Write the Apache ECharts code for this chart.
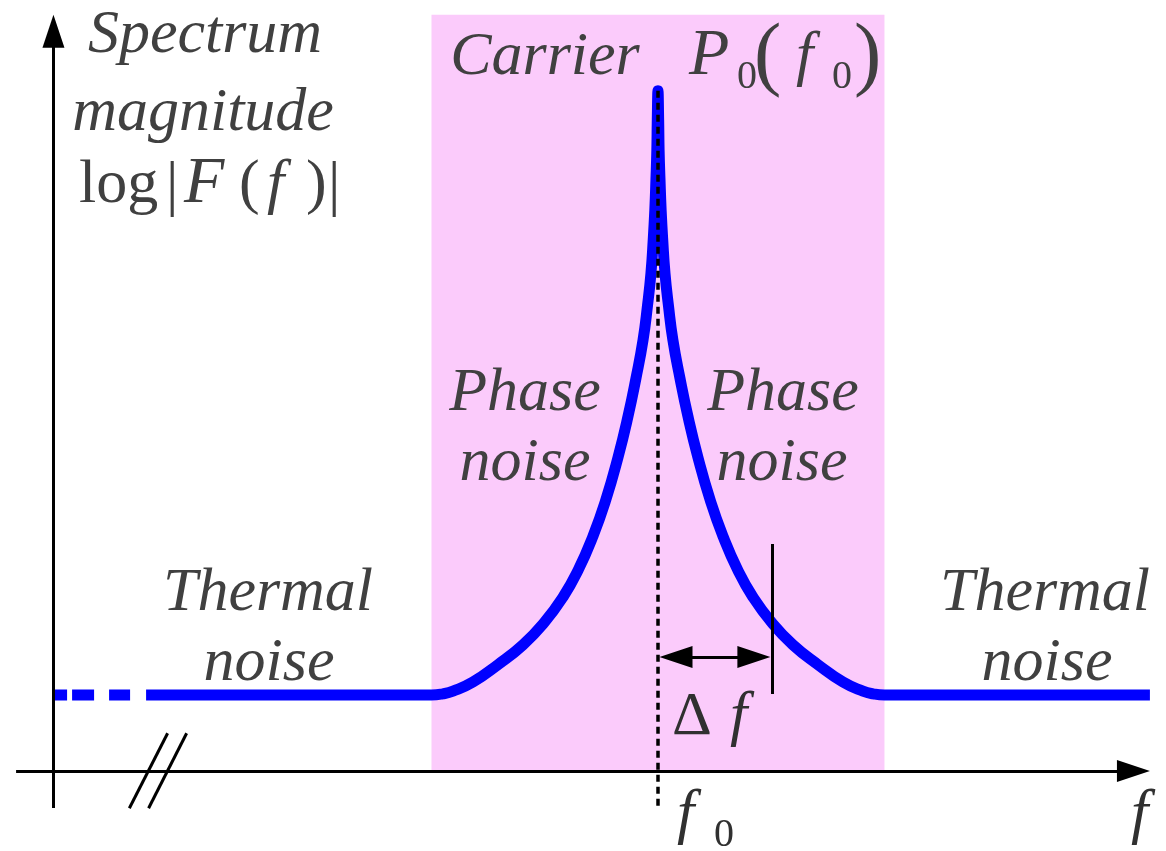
<!DOCTYPE html>
<html><head><meta charset="utf-8">
<script src="https://cdn.jsdelivr.net/npm/echarts@6/dist/echarts.min.js"></script>
<style>html,body{margin:0;padding:0;background:#fff}#c{width:1166px;height:851px}</style>
</head><body><div id="c"></div>
<script>
// ---------------- data (x: frequency offset from f0, band edge = 100; y: log magnitude) ----------------
const bandEdge = 100;            // half width of the phase-noise region
const bandTop = 99.5;            // top of shaded region
const thermalLevel = 10;         // thermal noise floor
const deltaF = 50.3;             // offset Δf marker
const thermalDashedStart = -266.7;
const thermalSolidStart = -226;
const thermalEnd = 217.2;
const leftOffsets   = [-100, -95.0, -90.5, -81.7, -70.6, -59.6, -50.3, -41.9, -35.3, -28.7, -23.0, -17.7, -13.2, -9.7, -6.6, -4.6, -3.1, -2.1, -1.4, -0.9, -0.5, -0.3];
const leftMagnitude = [10.0, 10.15, 10.5, 11.7, 14.0, 16.6, 19.5, 22.9, 26.4, 30.9, 35.7, 41.2, 46.7, 51.7, 56.7, 61.3, 65.5, 69.9, 73.8, 77.8, 81.7, 85.7];
const rightOffsets   = [0, 0.3, 0.5, 0.9, 1.4, 2.1, 3.1, 4.6, 6.6, 9.7, 13.2, 17.7, 23.0, 28.7, 35.3, 41.9, 50.3, 59.6, 70.6, 81.7, 90.5, 95.0, 100];
const rightMagnitude = [89.5, 85.7, 81.7, 77.8, 73.8, 69.9, 65.5, 61.3, 56.7, 51.7, 46.7, 41.2, 35.7, 30.9, 26.4, 22.9, 19.5, 16.6, 14.0, 11.7, 10.5, 10.15, 10.0];

// ---------------- layout ----------------
const W = 1166, H = 851;
const xMin = -290.5, xMax = 224.3, yMin = -10.53, yMax = 101.45;
const sx = W / (xMax - xMin), sy = H / (yMax - yMin);
const dx = p => p / sx, dy = p => p / sy;
const axisX = -266.9, axisBottom = -4.87, axisLeft = -283.4;
const arrowW = 22, arrowL = 33;

const curve = [[thermalSolidStart, thermalLevel]]
  .concat(leftOffsets.map((x, i) => [x, leftMagnitude[i]]))
  .concat(rightOffsets.map((x, i) => [x, rightMagnitude[i]]))
  .concat([[thermalEnd, thermalLevel]]);
const dashed = [[thermalSolidStart, thermalLevel], [thermalDashedStart, thermalLevel]];

function seg(a, b, style, symA, symB) {
  const ls = Object.assign({ color: '#000', width: 3, type: 'solid', cap: 'butt' }, style || {});
  return [
    { coord: a, symbol: symA ? 'triangle' : 'none', symbolSize: [arrowW, arrowL], lineStyle: ls },
    { coord: b, symbol: symB ? 'triangle' : 'none', symbolSize: [arrowW, arrowL], lineStyle: ls }
  ];
}
const head = arrowL / 2;
const lines = [
  seg([axisLeft, 0], [thermalEnd - dx(head), 0], null, false, true),
  seg([axisX, axisBottom], [axisX, bandTop - dy(head)], null, false, true),
  seg([-216.5, 4.96], [-233.4, -4.91]),
  seg([-208.1, 4.96], [-224.9, -4.91]),
  seg([0, rightMagnitude[0]], [0, axisBottom], { type: [7, 5], width: 3.5 }),
  seg([deltaF, 29.87], [deltaF, 10.13]),
  seg([dx(2) + dx(16), 15.0], [deltaF - dx(2) - dx(16), 15.0], null, true, true)
];

const SERIF = '"Liberation Serif", "Times New Roman", serif';
function txt(s, x, base, o) {
  o = o || {};
  const size = o.size || 62;
  const align = o.align || 'center';
  return {
    type: 'text', x: x, y: base - 0.23 * size, z: 100, silent: true,
    style: {
      text: s, fill: o.color || '#404040',
      font: (o.italic === false ? 'normal' : 'italic') + ' ' + size + 'px ' + SERIF,
      align: align, textAlign: align, verticalAlign: 'middle', textVerticalAlign: 'middle'
    }
  };
}
const R = { italic: false, align: 'left' };
const I = { align: 'left' };
const texts = [
  txt('Spectrum', 205, 50),
  txt('magnitude', 203, 128),
  txt('log', 79, 200, R),
  txt('|', 166, 202, R),
  txt('F', 184, 200, { align: 'left', size: 66 }),
  txt('(', 239, 200, R),
  txt('f', 267, 200, I),
  txt(')', 306, 200, R),
  txt('|', 328, 202, R),
  txt('Carrier', 545, 72),
  txt('P', 689, 72, { align: 'left', size: 66 }),
  txt('0', 737, 87, { italic: false, align: 'left', size: 40 }),
  txt('(', 754, 77, { italic: false, align: 'left', size: 82 }),
  txt('f', 796, 72, I),
  txt('0', 832, 87, { italic: false, align: 'left', size: 40 }),
  txt(')', 854, 77, { italic: false, align: 'left', size: 82 }),
  txt('Phase', 525, 408), txt('noise', 525, 478),
  txt('Phase', 783, 408), txt('noise', 782, 478),
  txt('Thermal', 268, 608), txt('noise', 269, 678),
  txt('Thermal', 1045, 608), txt('noise', 1047, 678),
  txt('Δ', 672, 732, { italic: false, align: 'left', color: '#303030' }),
  txt('f', 730, 732, { align: 'left', color: '#303030' }),
  txt('f', 677, 830, { align: 'left', color: '#303030' }),
  txt('0', 714, 845, { italic: false, align: 'left', size: 40, color: '#303030' }),
  txt('f', 1131, 830, { align: 'left', color: '#303030' })
];

const chart = echarts.init(document.getElementById('c'), null, { renderer: 'canvas' });
chart.setOption({
  animation: false,
  grid: { left: 0, right: 0, top: 0, bottom: 0 },
  xAxis: { type: 'value', min: xMin, max: xMax, show: false },
  yAxis: { type: 'value', min: yMin, max: yMax, show: false },
  series: [
    { type: 'line', z: 1, data: [], silent: true,
      markArea: { silent: true, itemStyle: { color: '#FBCBFB' }, label: { show: false },
        data: [[{ coord: [-bandEdge, 0] }, { coord: [bandEdge, bandTop] }]] } },
    { type: 'line', z: 3, data: dashed, symbol: 'none', silent: true,
      lineStyle: { color: '#0000FF', width: 11, type: [0, 16, 21, 15, 22, 5, 13, 60], cap: 'butt' } },
    { type: 'line', z: 3, data: curve, symbol: 'none', silent: true, smooth: 0.5,
      lineStyle: { color: '#0000FF', width: 11, cap: 'butt', join: 'round' } },
    { type: 'line', z: 5, data: [], silent: true,
      markLine: { silent: true, symbol: 'none', label: { show: false }, animation: false,
        emphasis: { disabled: true }, data: lines } }
  ],
  graphic: texts
});
</script></body></html>
